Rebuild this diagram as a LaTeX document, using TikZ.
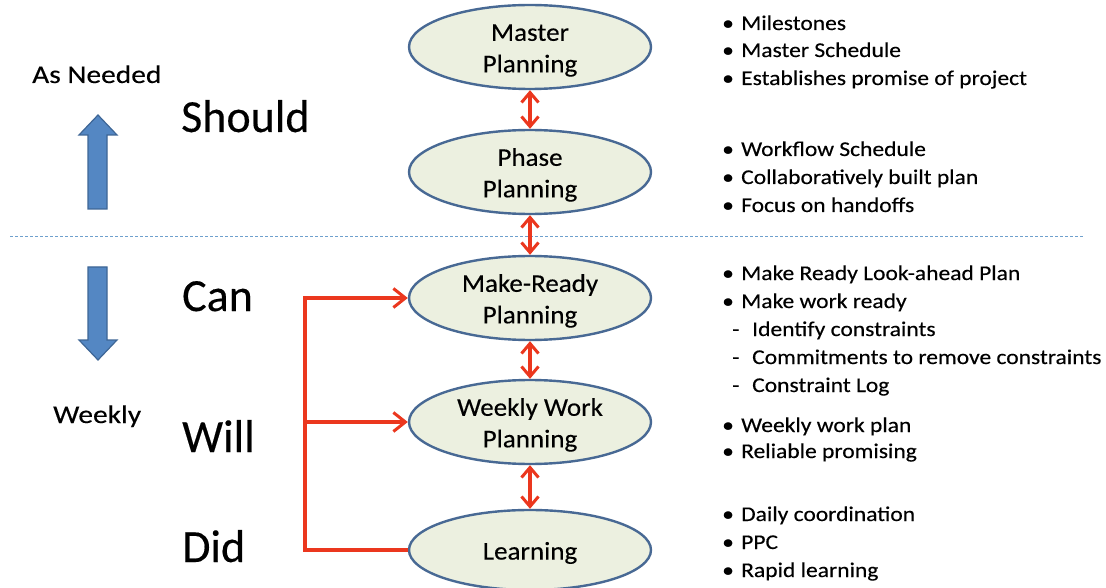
\documentclass[tikz,border=0pt]{standalone}
\usepackage{fontspec}
\setmainfont{Carlito}
\newfontfamily\bulfont[FakeStretch=1.12,FakeBold=0.3]{Carlito}
\newfontfamily\ellfont[FakeStretch=1.06,FakeBold=0.3]{Carlito}
\newfontfamily\sidefont[FakeStretch=1.155,FakeBold=0.3]{Carlito}
\newfontfamily\bigfont[FakeBold=0.3]{Carlito}
\usetikzlibrary{arrows.meta,shapes.geometric}
\definecolor{ellfill}{RGB}{236,240,224}
\definecolor{elldraw}{RGB}{72,105,148}
\definecolor{redc}{RGB}{235,55,30}
\definecolor{bluefill}{RGB}{84,135,195}
\definecolor{bluedraw}{RGB}{62,102,150}
\definecolor{dashc}{RGB}{110,160,205}
\newcommand{\tstrut}{\rule{0pt}{23.5pt}}
\tikzset{
  ell/.style={ellipse, draw=elldraw, fill=ellfill, line width=2.4pt, minimum width=242pt, minimum height=80pt, inner sep=0pt, align=center, font=\ellfont\fontsize{25.5}{31.5}\selectfont},
  redline/.style={draw=redc, line width=3.2pt},
  redarr/.style={redline, {Straight Barb[length=10pt,width=17pt,line width=3pt]}-{Straight Barb[length=10pt,width=17pt,line width=3pt]}},
  redto/.style={redline, -{Straight Barb[length=12pt,width=19pt,line width=3pt]}},
  bigword/.style={anchor=base west, inner sep=0pt, font=\bigfont\fontsize{46}{50}\selectfont},
  sideword/.style={anchor=base west, inner sep=0pt, font=\sidefont\fontsize{25.5}{28}\selectfont},
  bul/.style={anchor=base west, inner sep=0pt, font=\bulfont\fontsize{21}{24}\selectfont},
  blockarr/.style={fill=bluefill, draw=bluedraw, line width=1.2pt}
}
\newcommand{\bitem}[3]{\node[bul] (#1) at (741,#2) {#3};\node[bul] at (722,#2) {•};}
\newcommand{\ditem}[3]{\node[bul] (#1) at (752,#2) {#3};\node[bul] at (732,#2) {-};}
\begin{document}
\begin{tikzpicture}[x=1pt,y=-1pt]
\useasboundingbox (0,0) rectangle (1106,588);
\fill[white] (0,0) rectangle (1106,588);
% dashed separator
\draw[dashc, line width=0.8pt, dash pattern=on 3pt off 2pt] (10,236) -- (1083,236);
% ellipses
\node[ell] (mp) at (530,47) {\tstrut Master\\Planning};
\node[ell] (pp) at (530,172) {\tstrut Phase\\Planning};
\node[ell] (mr) at (530,298) {\tstrut Make-Ready\\Planning};
\node[ell] (ww) at (530,422) {\tstrut Weekly Work\\Planning};
\node[ell] (lr) at (530,550) {\tstrut Learning};
% double arrows
\draw[redarr] (mp.south) -- (pp.north);
\draw[redarr] (pp.south) -- (mr.north);
\draw[redarr] (mr.south) -- (ww.north);
\draw[redarr] (ww.south) -- (lr.north);
% feedback
\coordinate (fx) at (305,0);
\draw[redto] (lr.west) -- (lr.west -| fx) |- (mr.west);
\draw[redto] (ww.west -| fx) -- (ww.west);
% block arrows
\draw[blockarr] (88,209) -- (88,135) -- (79,135) -- (98,115) -- (117,135) -- (107,135) -- (107,209) -- cycle;
\draw[blockarr] (88,267) -- (88,340) -- (79,340) -- (98,360) -- (117,340) -- (107,340) -- (107,267) -- cycle;
% left labels
\node[sideword] (asn) at (32,83) {As Needed};
\node[sideword] (wkl) at (53,423) {Weekly};
\node[bigword] (should) at (181,132) {Should};
\node[bigword] (can) at (182,311) {Can};
\node[bigword] (will) at (182,452) {Will};
\node[bigword] (did) at (182,562) {Did};
% bullets
\bitem{b1}{30}{Milestones}
\bitem{b2}{57}{Master Schedule}
\bitem{b3}{85}{Establishes promise of project}
\bitem{b4}{156}{Workflow Schedule}
\bitem{b5}{184}{Collaboratively built plan}
\bitem{b6}{212}{Focus on handoffs}
\bitem{b7}{280}{Make Ready Look-ahead Plan}
\bitem{b8}{308}{Make work ready}
\ditem{b9}{336}{Identify constraints}
\ditem{b10}{364}{Commitments to remove constraints}
\ditem{b11}{392}{Constraint Log}
\bitem{b12}{432}{Weekly work plan}
\bitem{b13}{458}{Reliable promising}
\bitem{b14}{521}{Daily coordination}
\bitem{b15}{549}{PPC}
\bitem{b16}{577}{Rapid learning}
\end{tikzpicture}
\end{document}
